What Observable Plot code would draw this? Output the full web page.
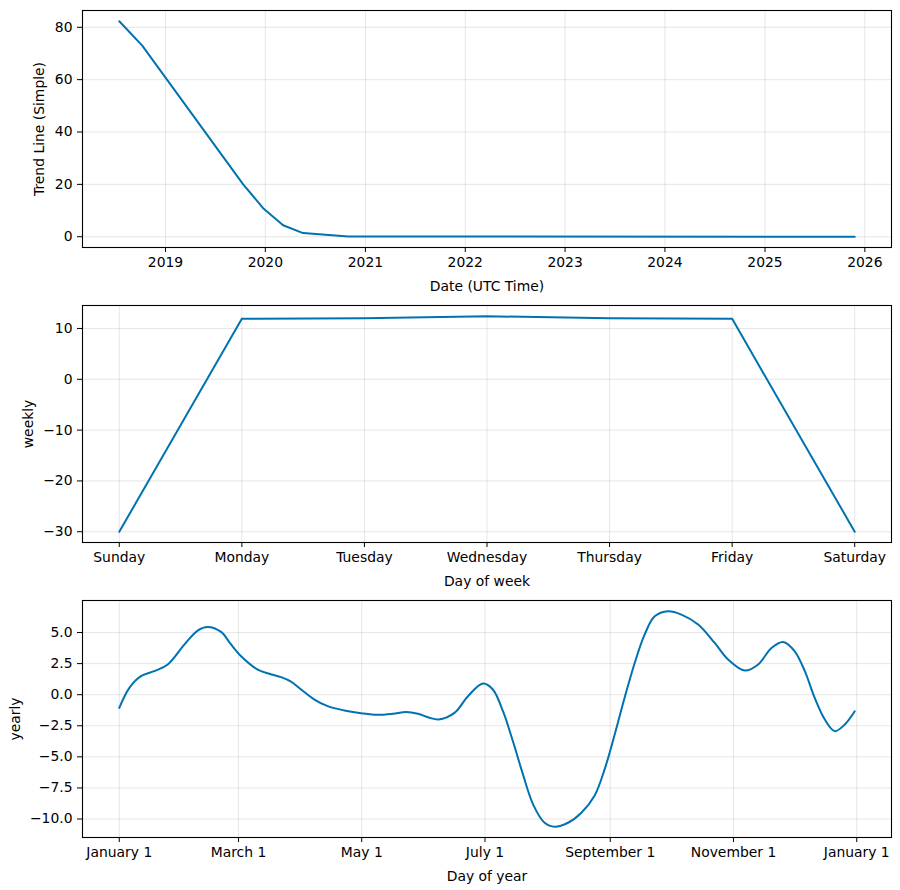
<!DOCTYPE html>
<html><head><meta charset="utf-8">
<script src="https://cdn.jsdelivr.net/npm/d3@7"></script>
<script src="https://cdn.jsdelivr.net/npm/@observablehq/plot@0.6"></script>
<style>
body{margin:0;background:#fff;}
#chart{width:900px;}
#chart svg{display:block;}
</style>
</head><body><div id="chart"></div>
<script>
// ---- Trend panel data ----
const trendDates = ["2018-07-16","2018-10-08","2019-10-12","2019-12-24","2020-03-06","2020-05-18","2020-10-30","2025-11-25"];
const trendValues = [82.3, 73.0, 20.0, 10.9, 4.4, 1.4, 0.1, 0.0];
const trendTickDates = ["2019-01-01","2020-01-01","2021-01-01","2022-01-01","2023-01-01","2024-01-01","2025-01-01","2026-01-01"];
const trendTickValues = [0, 20, 40, 60, 80];

// ---- Weekly panel data ----
const weekDays = ["Sunday","Monday","Tuesday","Wednesday","Thursday","Friday","Saturday"];
const weeklyValues = [-30.0, 11.9, 12.0, 12.4, 12.0, 11.9, -30.0];
const weeklyTickValues = [-30, -20, -10, 0, 10];

// ---- Yearly panel data (day offset from January 1) ----
const yearDays = [0,5,10.7,17.3,24,32.2,38.8,43.8,50.4,55,60.3,68.5,75,80.1,85,90,96.6,103.1,111.4,120.5,128,135.4,142,147.8,153.5,158,165.9,172.6,180,184.9,189.9,194.8,199.8,204.8,210.5,215.5,222.1,228.7,235.3,240.2,245.2,250.1,255.1,260,265,271.6,278.2,286.5,294.7,301.3,309.6,316.2,322.8,328.6,334.3,339.3,344.2,349.2,354.1,359.1,364];
const yearlyValues = [-1.06,0.55,1.49,1.89,2.43,4.03,5.16,5.45,5.05,4.1,3.09,2.02,1.65,1.41,1.05,0.42,-0.39,-0.92,-1.27,-1.51,-1.62,-1.54,-1.4,-1.54,-1.85,-1.99,-1.46,-0.12,0.9,0.42,-1.33,-3.73,-6.41,-8.82,-10.3,-10.62,-10.3,-9.49,-8.1,-6.01,-3.2,-0.25,2.55,4.83,6.3,6.71,6.44,5.64,4.16,2.83,1.94,2.43,3.76,4.24,3.49,1.89,-0.26,-1.99,-2.93,-2.39,-1.33];
const yearTickDates = ["2017-01-01","2017-03-01","2017-05-01","2017-07-01","2017-09-01","2017-11-01","2018-01-01"];
const yearTickLabels = ["January 1","March 1","May 1","July 1","September 1","November 1","January 1"];
const yearlyTickValues = [-10, -7.5, -5, -2.5, 0, 2.5, 5];

// ---- helpers ----
const LINE = "#0072B2";
const pad = (ext, f = 0.05) => { const r = ext[1] - ext[0]; return [ext[0] - r * f, ext[1] + r * f]; };
const padTime = (ext) => { const a = +ext[0], b = +ext[1], r = b - a; return [new Date(a - r * 0.05), new Date(b + r * 0.05)]; };
const base = Date.UTC(2017, 0, 1);

const trendData = trendDates.map((d, i) => ({x: new Date(d + "T00:00:00Z"), y: trendValues[i]}));
const weeklyData = weekDays.map((d, i) => ({x: i, y: weeklyValues[i]}));
const yearlyData = yearDays.map((d, i) => ({x: new Date(base + d * 864e5), y: yearlyValues[i]}));

const style = {fontFamily: "'DejaVu Sans', sans-serif", fontSize: "13.9px", color: "black", background: "white", overflow: "visible"};

function panel({data, height, marginBottom, xScale, yScale, xTicks, xFormat, yTicks, yFormat, xLabel, yLabel, yLabelOffset, curve}) {
  return Plot.plot({
    width: 900, height,
    marginTop: 10, marginBottom, marginLeft: 82, marginRight: 9,
    style,
    x: xScale,
    y: yScale,
    marks: [
      Plot.gridX(xTicks, {stroke: "gray", strokeOpacity: 0.2, strokeWidth: 1}),
      Plot.gridY(yTicks, {stroke: "gray", strokeOpacity: 0.2, strokeWidth: 1}),
      Plot.axisX(xTicks, {tickFormat: xFormat, tickSize: 5, tickPadding: 5, label: xLabel, labelAnchor: "center", labelArrow: "none", labelOffset: 43, fontSize: "13.9px"}),
      Plot.axisY(yTicks, {tickFormat: yFormat, tickSize: 5, tickPadding: 5, label: yLabel, labelAnchor: "center", labelArrow: "none", labelOffset: yLabelOffset, fontSize: "13.9px"}),
      Plot.line(data, {x: "x", y: "y", stroke: LINE, strokeWidth: 2, curve}),
      Plot.frame({stroke: "black", strokeWidth: 1.1})
    ]
  });
}

const chart = document.getElementById("chart");

chart.append(panel({
  data: trendData, height: 295, marginBottom: 48,
  xScale: {type: "utc", domain: padTime(d3.extent(trendData, d => d.x))},
  yScale: {domain: pad(d3.extent(trendValues))},
  xTicks: trendTickDates.map(d => new Date(d + "T00:00:00Z")),
  xFormat: d3.utcFormat("%Y"),
  yTicks: trendTickValues, yFormat: d3.format("d"),
  xLabel: "Date (UTC Time)", yLabel: "Trend Line (Simple)", yLabelOffset: 48,
  curve: "linear"
}));

chart.append(panel({
  data: weeklyData, height: 295, marginBottom: 48,
  xScale: {type: "linear", domain: pad([0, weekDays.length - 1])},
  yScale: {domain: pad(d3.extent(weeklyValues))},
  xTicks: d3.range(weekDays.length),
  xFormat: i => weekDays[i],
  yTicks: weeklyTickValues, yFormat: d3.format("d"),
  xLabel: "Day of week", yLabel: "weekly", yLabelOffset: 59,
  curve: "linear"
}));

const yTickDateObjs = yearTickDates.map(d => new Date(d + "T00:00:00Z"));
chart.append(panel({
  data: yearlyData, height: 300, marginBottom: 53,
  xScale: {type: "utc", domain: padTime(d3.extent(yearlyData, d => d.x))},
  yScale: {domain: pad(d3.extent(yearlyValues))},
  xTicks: yTickDateObjs,
  xFormat: (d, i) => yearTickLabels[i],
  yTicks: yearlyTickValues, yFormat: d3.format(".1f"),
  xLabel: "Day of year", yLabel: "yearly", yLabelOffset: 72,
  curve: "catmull-rom"
}));
</script>
</body></html>
